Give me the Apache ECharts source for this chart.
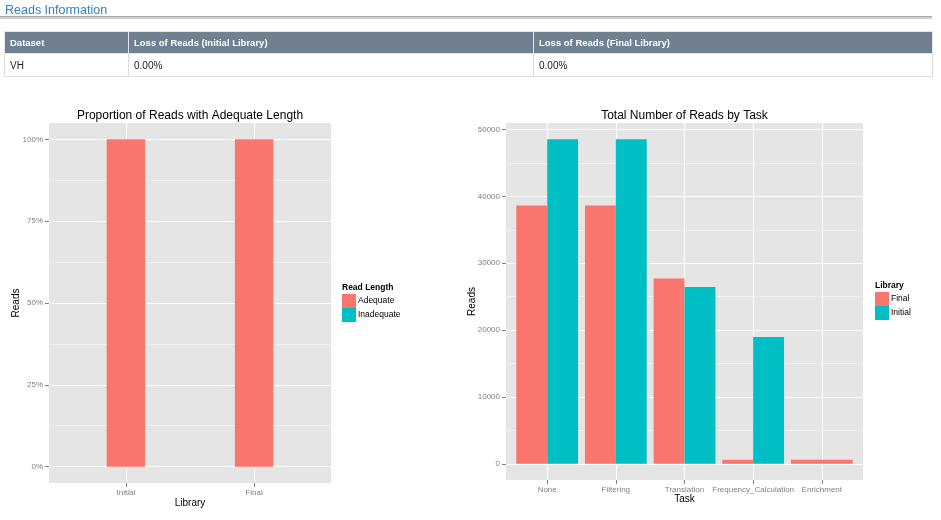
<!DOCTYPE html>
<html><head><meta charset="utf-8">
<script src="https://cdn.jsdelivr.net/npm/echarts@6/dist/echarts.min.js"></script>
<style>
html,body{margin:0;padding:0;width:941px;height:520px;overflow:hidden;background:#fff;font-family:"Liberation Sans",Arial,sans-serif;}
#chart{position:absolute;left:0;top:0;width:941px;height:520px;}
#hdr{position:absolute;left:5px;top:3px;font-size:12.5px;line-height:15px;color:#3480c4;}
#rule{position:absolute;left:0;top:16px;width:932px;height:0;border-top:1px solid #aaa;border-bottom:2px solid #cfcfcf;}
table{position:absolute;left:4px;top:31px;width:928px;border-collapse:collapse;table-layout:fixed;}
th{background:#708090;color:#fff;font-weight:bold;font-size:9.5px;text-align:left;height:22px;padding:0 5px;border:1px solid #e6e6e6;box-sizing:border-box;}
td{height:23px;padding:0 5px;border:1px solid #dddddd;color:#222;font-size:10px;box-sizing:border-box;}
</style></head>
<body>
<div id="chart"></div>
<div id="hdr">Reads Information</div>
<div id="rule"></div>
<table>
<colgroup><col style="width:124px"><col style="width:405px"><col style="width:399px"></colgroup>
<tr><th>Dataset</th><th>Loss of Reads (Initial Library)</th><th>Loss of Reads (Final Library)</th></tr>
<tr><td>VH</td><td>0.00%</td><td>0.00%</td></tr>
</table>
<script>
// ---- data ----
const libraries = ['Initial', 'Final'];
const adequateShare = [1, 1];
const inadequateShare = [0, 0];
const pctTicks = [0, 0.25, 0.5, 0.75, 1];
const pctMinor = [0.125, 0.375, 0.625, 0.875];

const tasks = ['None', 'Filtering', 'Translation', 'Frequency_Calculation', 'Enrichment'];
const finalReads = [38650, 38650, 27700, 600, 600];
const initialReads = [48550, 48550, 26450, 18950, null];
const readTicks = [0, 10000, 20000, 30000, 40000, 50000];
const readMinor = [5000, 15000, 25000, 35000, 45000];

// ---- styling ----
const RED = '#F8766D', CYAN = '#00BFC4', PANEL = '#e5e5e5', MINOR = '#f2f2f2', GREY = '#7f7f7f';
const FONT = '"Liberation Sans", Arial, sans-serif';

const G0 = {left: 49, top: 123, width: 282, height: 360};
const G1 = {left: 506, top: 123, width: 357, height: 357};

const unit0 = G0.width / (libraries.length - 1 + 1.2);
const unit1 = G1.width / (tasks.length - 1 + 1.2);

const readMax = Math.max(...finalReads.filter(v => v != null), ...initialReads.filter(v => v != null));

function idx(n) { return Array.from({length: n}, (_, i) => i); }

function xAxisCommon(grid, n, names, show, pos) {
  return {
    type: 'value', gridIndex: grid, min: -0.6, max: n - 1 + 0.6, show: show, position: pos,
    nameMoveOverlap: false,
    axisLine: {show: false, onZero: false},
    axisTick: {show: true, length: 4, lineStyle: {color: GREY}, customValues: idx(n)},
    axisLabel: {customValues: idx(n), formatter: v => names[Math.round(v)] || '', color: GREY, fontSize: 8, margin: 6, fontFamily: FONT},
    splitLine: {show: true, lineStyle: {color: '#ffffff', width: 1}}
  };
}
function xHidden(grid, n) {
  const a = xAxisCommon(grid, n, [], false, 'top');
  a.axisTick.show = false; a.axisLabel.show = false; a.splitLine.show = false;
  return a;
}

function yMain(grid, min, max, ticks, fmt, gap) {
  return {
    type: 'value', gridIndex: grid, min: min, max: max, position: 'left',
    name: 'Reads', nameLocation: 'middle', nameGap: gap, nameMoveOverlap: false,
    nameTextStyle: {color: '#000', fontSize: 10, fontFamily: FONT},
    axisLine: {show: false, onZero: false},
    axisTick: {show: true, length: 4, lineStyle: {color: GREY}, customValues: ticks},
    axisLabel: {customValues: ticks, formatter: fmt, color: GREY, fontSize: 8, margin: 6, fontFamily: FONT},
    splitLine: {show: true, lineStyle: {color: '#ffffff', width: 1}}
  };
}
function yMinor(grid, min, max, ticks) {
  return {
    type: 'value', gridIndex: grid, min: min, max: max, position: 'right',
    axisLine: {show: false, onZero: false},
    axisTick: {show: false, customValues: ticks},
    axisLabel: {show: false, customValues: ticks},
    splitLine: {show: true, lineStyle: {color: MINOR, width: 1}}
  };
}

// left chart series
const seriesLeft = [
  {name: 'Adequate', type: 'bar', xAxisIndex: 0, yAxisIndex: 0, stack: 'len', barWidth: unit0 * 0.3,
   itemStyle: {color: RED}, data: adequateShare.map((v, i) => [i, v])},
  {name: 'Inadequate', type: 'bar', xAxisIndex: 0, yAxisIndex: 0, stack: 'len', barWidth: unit0 * 0.3,
   itemStyle: {color: CYAN}, data: inadequateShare.map((v, i) => [i, v])}
];

// right chart: dodge where both present, full width where only one present
const both = i => finalReads[i] != null && initialReads[i] != null;
const finalDodge = [], initialDodge = [], finalSolo = [], initialSolo = [];
tasks.forEach((t, i) => {
  if (both(i)) { finalDodge.push([i, finalReads[i]]); initialDodge.push([i, initialReads[i]]); }
  else if (finalReads[i] != null) finalSolo.push([i, finalReads[i]]);
  else if (initialReads[i] != null) initialSolo.push([i, initialReads[i]]);
});
const seriesRight = [
  {name: 'Final', type: 'bar', xAxisIndex: 2, yAxisIndex: 2, barWidth: unit1 * 0.45, barGap: '0%',
   itemStyle: {color: RED}, data: finalDodge},
  {name: 'Initial', type: 'bar', xAxisIndex: 2, yAxisIndex: 2, barWidth: unit1 * 0.45, barGap: '0%',
   itemStyle: {color: CYAN}, data: initialDodge},
  {name: 'Final', type: 'bar', xAxisIndex: 3, yAxisIndex: 2, barWidth: unit1 * 0.9, barGap: '-100%',
   itemStyle: {color: RED}, data: finalSolo},
  {name: 'Initial', type: 'bar', xAxisIndex: 3, yAxisIndex: 2, barWidth: unit1 * 0.9, barGap: '-100%',
   itemStyle: {color: CYAN}, data: initialSolo}
];

const x0 = xAxisCommon(0, libraries.length, libraries, true, 'bottom');
x0.name = 'Library'; x0.nameLocation = 'middle'; x0.nameGap = 15;
x0.nameTextStyle = {color: '#000', fontSize: 10, fontFamily: FONT};
const x1 = xAxisCommon(1, tasks.length, tasks, true, 'bottom');
x1.name = 'Task'; x1.nameLocation = 'middle'; x1.nameGap = 14;
x1.nameTextStyle = {color: '#000', fontSize: 10, fontFamily: FONT};

const option = {
  animation: false,
  textStyle: {fontFamily: FONT},
  grid: [
    Object.assign({show: true, backgroundColor: PANEL, borderWidth: 0}, G0),
    Object.assign({show: true, backgroundColor: PANEL, borderWidth: 0}, G1)
  ],
  xAxis: [x0, xHidden(0, libraries.length), x1, xHidden(1, tasks.length)],
  yAxis: [
    yMain(0, -0.05, 1.05, pctTicks, v => Math.round(v * 100) + '%', 28),
    yMinor(0, -0.05, 1.05, pctMinor),
    yMain(1, -0.05 * readMax, readMax * 1.05, readTicks, v => String(v), 29),
    yMinor(1, -0.05 * readMax, readMax * 1.05, readMinor)
  ],
  legend: [
    {data: ['Adequate', 'Inadequate'], orient: 'vertical', left: 342, top: 294, padding: 0,
     itemWidth: 14, itemHeight: 14, itemGap: 0, icon: 'rect', selectedMode: false,
     textStyle: {fontSize: 8.5, color: '#000', fontFamily: FONT, padding: [0, 0, 0, -3]}},
    {data: ['Final', 'Initial'], orient: 'vertical', left: 875, top: 292, padding: 0,
     itemWidth: 14, itemHeight: 14, itemGap: 0, icon: 'rect', selectedMode: false,
     textStyle: {fontSize: 8.5, color: '#000', fontFamily: FONT, padding: [0, 0, 0, -3]}}
  ],
  graphic: [
    {type: 'text', x: G0.left + G0.width / 2, y: 116, style: {text: 'Proportion of Reads with Adequate Length', fill: '#000', font: '12px ' + FONT, align: 'center', verticalAlign: 'middle'}},
    {type: 'text', x: G1.left + G1.width / 2, y: 116, style: {text: 'Total Number of Reads by Task', fill: '#000', font: '12px ' + FONT, align: 'center', verticalAlign: 'middle'}},
    {type: 'text', x: 342, y: 288, style: {text: 'Read Length', fill: '#000', font: 'bold 8.5px ' + FONT, align: 'left', verticalAlign: 'middle'}},
    {type: 'text', x: 875, y: 286, style: {text: 'Library', fill: '#000', font: 'bold 8.5px ' + FONT, align: 'left', verticalAlign: 'middle'}}
  ],
  series: seriesLeft.concat(seriesRight)
};

const chart = echarts.init(document.getElementById('chart'), null, {renderer: 'canvas'});
chart.setOption(option);
</script>
</body></html>
